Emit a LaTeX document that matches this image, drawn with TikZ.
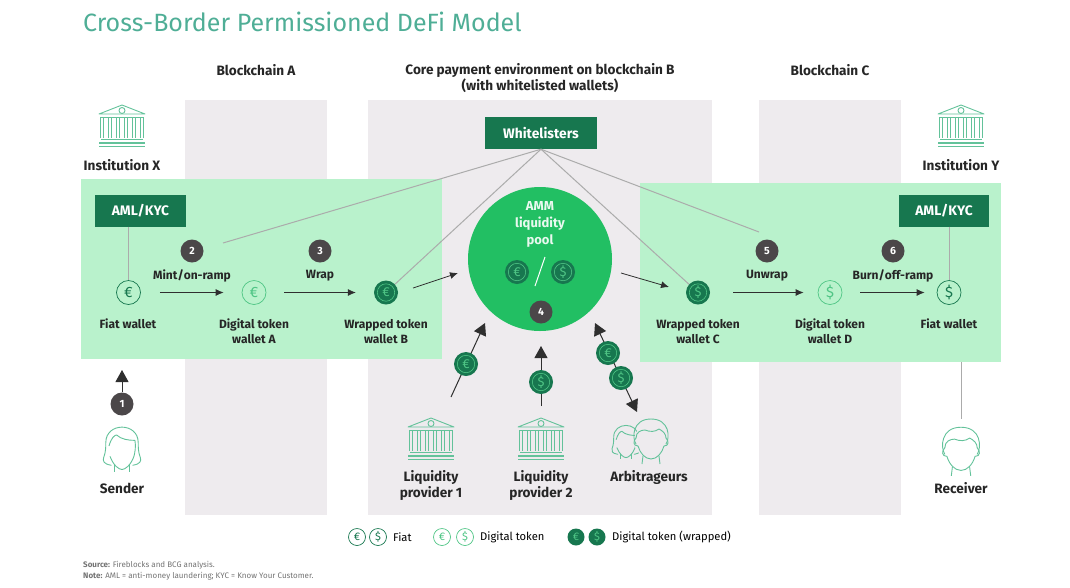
\documentclass[tikz,border=0pt]{standalone}
\usepackage{fontspec}
\setmainfont{Fira Sans}
\usetikzlibrary{arrows.meta}
\definecolor{colgrey}{HTML}{EEEBEE}
\definecolor{blockgreen}{HTML}{B9F2CC}
\definecolor{darkgreen}{HTML}{17774F}
\definecolor{poolgreen}{HTML}{22BF63}
\definecolor{lightgreen}{HTML}{4FC585}
\definecolor{linegreen}{HTML}{63C29A}
\definecolor{titleteal}{HTML}{4FAE96}
\definecolor{bubblegrey}{HTML}{4B4749}
\definecolor{linkgrey}{HTML}{ABABAB}
\definecolor{inkdark}{HTML}{2F2F2F}
\tikzset{
lbl/.style={font=\fontsize{12}{15}\selectfont\bfseries, text=black!85, align=center, inner sep=0pt},
lblbig/.style={lbl, font=\fontsize{13.6}{16}\selectfont\bfseries},
legtxt/.style={anchor=west, inner sep=0pt, font=\fontsize{11.2}{13}\selectfont},
greybox/.style={fill=colgrey, draw=none},
greenbox/.style={fill=blockgreen, draw=none},
darkbox/.style={fill=darkgreen, text=white, font=\fontsize{13.8}{15}\selectfont\bfseries, minimum height=32, inner sep=0pt},
bubble/.style={circle, fill=bubblegrey, text=white, minimum size=23, inner sep=0pt, font=\fontsize{10.5}{12}\selectfont\bfseries},
coinfiat/.style={circle, draw=darkgreen, text=darkgreen, line width=.7pt, minimum size=24, inner sep=0pt, font=\fontsize{15}{15}\selectfont},
coindigital/.style={circle, draw=lightgreen, text=lightgreen, line width=.7pt, minimum size=24, inner sep=0pt, font=\fontsize{15}{15}\selectfont},
coinwrapped/.style={circle, fill=darkgreen, text=lightgreen, minimum size=24, inner sep=0pt, font=\fontsize{13}{13}\selectfont,
  path picture={\draw[lightgreen,line width=.6pt] (path picture bounding box.center) circle (8.7);}},
smallcoin/.style={minimum size=17, font=\fontsize{11}{11}\selectfont},
flow/.style={->, inkdark, line width=.8pt, shorten <=19pt, shorten >=18pt},
link/.style={linkgrey, line width=1pt},
bigflow/.style={inkdark, line width=1pt, >={Triangle[length=12pt,width=13pt]}},
pics/bank/.style={code={
  \draw[linegreen,line width=.9pt,line join=round] (-23,-12)--(0,-21)--(23,-12)--cycle;
  \draw[linegreen,line width=.9pt] (0,-15.5) circle (3);
  \draw[linegreen,line width=.9pt] (-21,-9)--(21,-9);
  \foreach \x in {-20,-12,-4,4,12,20}{\draw[linegreen,line width=.9pt] (\x-1.5,-9)--(\x-1.5,12) (\x+1.5,-9)--(\x+1.5,12);}
  \draw[linegreen,line width=.9pt] (-21,13)--(21,13);
  \draw[linegreen,line width=1.2pt] (-23,17)--(23,17) (-23,20.5)--(23,20.5);
}},
pics/woman/.style={code={
  \draw[linegreen,line width=.9pt,line join=round,line cap=round] (-10,15) .. controls (-17,14) and (-18,11) .. (-17,8) .. controls (-15,3) and (-15,-2) .. (-15,-6) .. controls (-15,-25) and (15,-25) .. (15,-6) .. controls (15,-2) and (15,3) .. (17,8) .. controls (18,11) and (17,14) .. (10,15);
  \draw[linegreen,line width=.9pt,line join=round,line cap=round] (-12,-3) .. controls (-10,-10) and (-7,-13) .. (-5,-13) .. controls (-1,-9) and (6,-8) .. (12,-8) .. controls (13,-2) and (12,3) .. (11,7) .. controls (8,15) and (3,19) .. (0,19) .. controls (-3,19) and (-8,15) .. (-11,7);
  \draw[linegreen,line width=.9pt] (-7,15)--(-7,21) (7,15)--(7,21);
}},
pics/man/.style={code={
  \draw[linegreen,line width=.9pt,line join=round,line cap=round] (-15,3) .. controls (-19,-3) and (-19,-22) .. (0,-22) .. controls (19,-22) and (19,-3) .. (15,3);
  \draw[linegreen,line width=.9pt,line join=round,line cap=round] (-15,-3) .. controls (-15,-9) and (-10,-11) .. (-6,-11) .. controls (-1,-9) and (4,-9) .. (8,-12) .. controls (12,-10) and (15,-7) .. (15,-3);
  \draw[linegreen,line width=.9pt,line join=round,line cap=round] (-15,-3) .. controls (-18,0) and (-18,5) .. (-13,5) .. controls (-11,12) and (-6,18) .. (0,18) .. controls (6,18) and (11,12) .. (13,5) .. controls (18,5) and (18,0) .. (15,-3);
  \draw[linegreen,line width=.9pt] (-8,15)--(-9,23) (8,15)--(9,23);
}}
}
\begin{document}
\begin{tikzpicture}[x=1pt, y=-1pt, line join=round, >={Latex[length=8pt,width=7pt]}]
\def\ycol{100}\def\ybot{515}\def\ycoin{292.5}\def\ytop{276}\def\yone{324}\def\ytwo{331.5}
\useasboundingbox (0,0) rectangle (1070,587);
% columns and blocks
\fill[greybox] (185,\ycol) rectangle (327,\ybot);
\fill[greybox] (368,\ycol) rectangle (712,\ybot);
\fill[greybox] (759,\ycol) rectangle (901,\ybot);
\fill[greenbox] (81,179) rectangle (442,359);
\fill[greenbox] (640,183) rectangle (1001,362);
% texts on top
\node[anchor=west, inner sep=0pt, text=titleteal, font=\fontsize{25}{28}\selectfont] (title) at (83,22) {Cross-Border Permissioned DeFi Model};
\node[lblbig] (heada) at (256,70) {Blockchain A};
\node[lblbig] (headb) at (540,78) {Core payment environment on blockchain B\\(with whitelisted wallets)};
\node[lblbig] (headc) at (830,70) {Blockchain C};
% boxes
\node[darkbox, minimum width=112] (whitelist) at (541,133) {Whitelisters};
\node[darkbox, minimum width=91] (amlx) at (140.5,210.5) {AML/KYC};
\node[darkbox, minimum width=90] (amly) at (944,210.5) {AML/KYC};
\node[circle, fill=poolgreen, minimum size=144, inner sep=0pt] (pool) at (540,259) {};
\node[lbl, text=white!90!poolgreen, font=\fontsize{13}{17}\selectfont\bfseries] (poollbl) at (540,224) {AMM\\liquidity\\pool};
% wallets
\node[coinfiat] (fiatx) at (128.5,\ycoin) {€};
\node[coindigital] (digitala) at (254,\ycoin) {€};
\node[coinwrapped] (wrappedb) at (386,\ycoin) {€};
\node[coinwrapped] (wrappedc) at (698,\ycoin) {\$};
\node[coindigital] (digitald) at (830,\ycoin) {\$};
\node[coinfiat] (fiaty) at (949,\ycoin) {\$};
\node[coinwrapped] (poole) at (517,272) {€};
\node[coinwrapped] (poold) at (563,272) {\$};
\draw[white, line width=1pt] (535,286)--(545,257);
% grey links
\coordinate (endtwo) at (223,243);
\coordinate (endfive) at (759,232);
\coordinate (endrec) at (961,419);
\coordinate (startrec) at (961,362);
\draw[link] (whitelist.south)--(endtwo);
\draw[link] (whitelist.south)--(wrappedb);
\draw[link] (whitelist.south)--(wrappedc);
\draw[link] (whitelist.south)--(endfive);
\draw[link] (amlx.south-|fiatx)--(fiatx);
\draw[link] (amly.south-|fiaty)--(fiaty);
\draw[link] (startrec)--(endrec);
% flows
\draw[flow] (fiatx)--(digitala);
\draw[flow, shorten <=18pt] (digitala)--(wrappedb);
\draw[flow, shorten <=23pt, shorten >=14pt] (wrappedc)--(digitald);
\draw[flow, shorten <=18pt, shorten >=12pt] (digitald)--(fiaty);
\coordinate (bout) at (413,288);\coordinate (bin) at (458,273);
\coordinate (cout) at (621,273);\coordinate (cin) at (669,287);
\draw[flow, shorten <=0pt, shorten >=0pt] (bout)--(bin);
\draw[flow, shorten <=0pt, shorten >=0pt] (cout)--(cin);
% numbers
\foreach \n/\x/\y in {1/122/404,2/192/251,3/320/251,4/541/312,5/767/251,6/893/251}
  \node[bubble] (step\n) at (\x,\y) {\n};
\foreach \nm/\x/\t in {minttxt/192/Mint\slash on-ramp,wraptxt/320/Wrap,unwraptxt/767/Unwrap,burntxt/893/Burn\slash off-ramp}
  \node[lbl] (\nm) at (\x,\ytop) {\t};
\node[lbl] (fiatxtxt) at (128,\yone) {Fiat wallet};
\node[lbl] (digatxt) at (254,\ytwo) {Digital token\\wallet A};
\node[lbl] (wrapbtxt) at (386,\ytwo) {Wrapped token\\wallet B};
\node[lbl] (wrapctxt) at (698,\ytwo) {Wrapped token\\wallet C};
\node[lbl] (digdtxt) at (830,\ytwo) {Digital token\\wallet D};
\node[lbl] (fiatytxt) at (949,\yone) {Fiat wallet};
% sender and receiver
\coordinate (onein) at (122,370);
\draw[->, bigflow] (step1)--(onein);
\pic at (122,126) {bank};
\pic at (961,126) {bank};
\node[lblbig] (instx) at (122,165) {Institution X};
\node[lblbig] (insty) at (961,165) {Institution Y};
\pic[scale=1.08] at (122,449) {woman};
\pic[scale=1.08] at (961,451) {man};
\node[lblbig] (sender) at (122,488) {Sender};
\node[lblbig] (receiver) at (961,488) {Receiver};
% liquidity providers
\coordinate (lpaout) at (451,397);\coordinate (lpain) at (485,323);
\coordinate (lpbout) at (541,406);\coordinate (lpbin) at (541,346);
\coordinate (arbup) at (595,323);\coordinate (arbdown) at (637,412);
\draw[->, bigflow] (lpaout)--(lpain);
\draw[->, bigflow] (lpbout)--(lpbin);
\draw[<->, bigflow] (arbup)--(arbdown);
\node[coinwrapped] (lpacoin) at (466,364) {€};
\node[coinwrapped] (lpbcoin) at (541,382) {\$};
\node[coinwrapped] (arbe) at (608,353) {€};
\node[coinwrapped] (arbd) at (621,378) {\$};
\pic at (431,439) {bank};
\pic at (541,439) {bank};
\pic[scale=.82] at (626,442) {woman};
\fill[colgrey] (651,441) circle (17);
\pic at (651,441) {man};
\node[lblbig] (lpatxt) at (431,485) {Liquidity\\provider 1};
\node[lblbig] (lpbtxt) at (541,485) {Liquidity\\provider 2};
\node[lblbig] (arbtxt) at (649,477) {Arbitrageurs};
% legend
\node[coinfiat, smallcoin] (lege) at (357,537) {€};
\node[coinfiat, smallcoin] (legd) at (378,537) {\$};
\node[legtxt] (legfiat) at (393,537) {Fiat};
\node[coindigital, smallcoin] (legde) at (442,537) {€};
\node[coindigital, smallcoin] (legdd) at (465,537) {\$};
\node[legtxt] (legdig) at (480,537) {Digital token};
\node[coinwrapped, smallcoin, path picture={}] (legwe) at (576,537) {€};
\node[coinwrapped, smallcoin, path picture={}] (legwd) at (597,537) {\$};
\node[legtxt] (legwrap) at (612,537) {Digital token (wrapped)};
% footnote
\node[anchor=west, inner sep=0pt, text=black!55, font=\fontsize{8}{10}\selectfont] (source) at (83,565.5) {\textbf{Source:} Fireblocks and BCG analysis.};
\node[anchor=west, inner sep=0pt, text=black!55, font=\fontsize{8}{10}\selectfont] (note) at (83,576.5) {\textbf{Note:} AML = anti-money laundering; KYC = Know Your Customer.};
\end{tikzpicture}
\end{document}
